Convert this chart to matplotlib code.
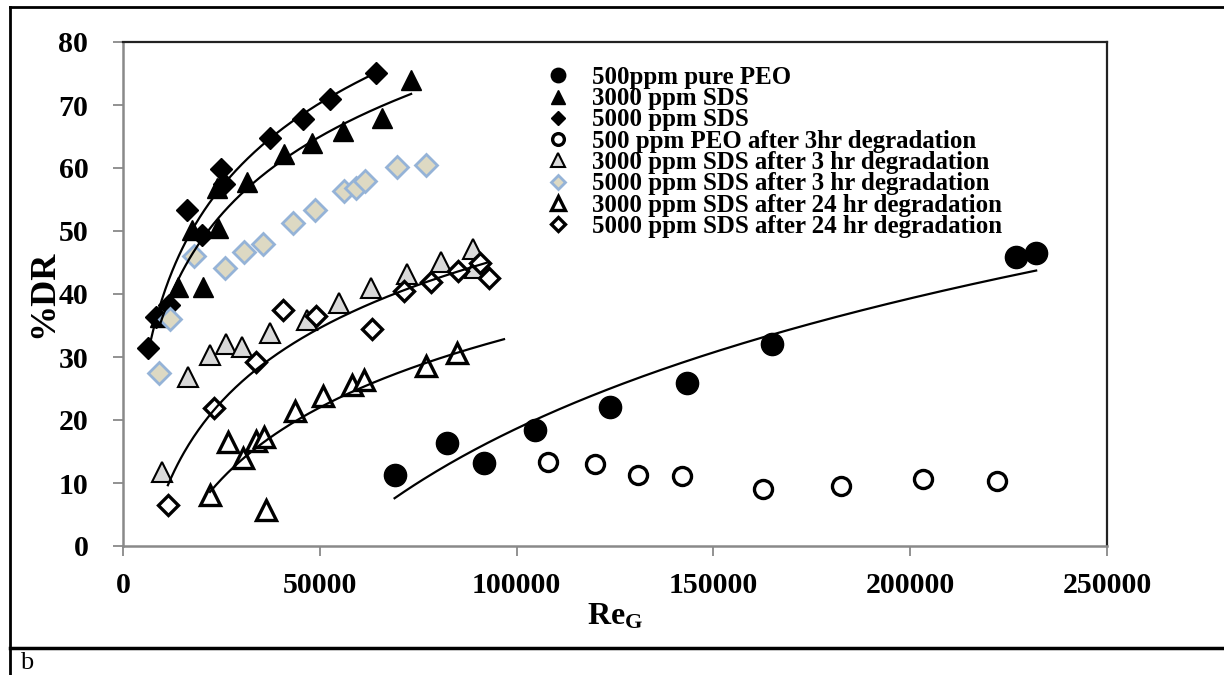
import numpy as np
import matplotlib
matplotlib.use("Agg")
import matplotlib.pyplot as plt
from matplotlib.lines import Line2D

plt.rcParams['font.family'] = ['Liberation Serif', 'DejaVu Serif']
plt.rcParams['font.weight'] = 'bold'
plt.rcParams['mathtext.fontset'] = 'custom'
plt.rcParams['mathtext.rm'] = 'Liberation Serif:bold'
plt.rcParams['mathtext.bf'] = 'Liberation Serif:bold'
plt.rcParams['mathtext.it'] = 'Liberation Serif:bold'

# ---- data: Re_G vs %DR ----
peo_x = [69000, 82300, 91700, 104700, 123700, 143300, 165000, 227000, 232000]
peo_y = [11.3, 16.3, 13.1, 18.4, 22.0, 25.8, 32.0, 45.8, 46.5]

sds3000_x = [9500, 14000, 20300, 17600, 24200, 24000, 31500, 40900, 48000, 55900, 65800, 73200]
sds3000_y = [36.3, 41.1, 41.1, 50.2, 50.4, 56.9, 57.7, 62.3, 63.9, 65.9, 68.0, 73.9]

sds5000_x = [6400, 8400, 11700, 16300, 20100, 25000, 25700, 37300, 45800, 52600, 64300]
sds5000_y = [31.4, 36.3, 38.3, 53.4, 49.3, 59.8, 57.5, 64.8, 67.8, 71.0, 75.1]

peo_3h_x = [108000, 120000, 130800, 142000, 162700, 182400, 203200, 222000]
peo_3h_y = [13.3, 13.0, 11.3, 11.1, 9.1, 9.5, 10.6, 10.3]

sds3000_3h_x = [9800, 16600, 22100, 26100, 30200, 37300, 46700, 54800, 63000, 72100, 80800, 88900, 89400]
sds3000_3h_y = [11.7, 26.8, 30.3, 32.1, 31.6, 33.8, 35.8, 38.6, 40.9, 43.1, 45.0, 47.1, 44.2]

sds5000_3h_x = [9200, 11900, 18000, 25900, 30700, 35600, 43200, 48800, 56200, 59200, 61500, 69700, 76900]
sds5000_3h_y = [27.4, 36.0, 46.0, 44.1, 46.6, 47.9, 51.2, 53.4, 56.4, 56.9, 58.0, 60.1, 60.4]

sds3000_24h_x = [22100, 36300, 26700, 30500, 33800, 35800, 43700, 50800, 58200, 61200, 77000, 84800]
sds3000_24h_y = [8.1, 5.7, 16.5, 14.0, 16.7, 17.3, 21.4, 23.8, 25.5, 26.3, 28.5, 30.6]

sds5000_24h_x = [11400, 23100, 33800, 40700, 49000, 63200, 71400, 78200, 85100, 90700, 93000]
sds5000_24h_y = [6.5, 21.9, 29.2, 37.4, 36.5, 34.4, 40.4, 41.9, 43.6, 44.9, 42.5]

labels = ["500ppm pure PEO",
          "3000 ppm SDS",
          "5000 ppm SDS",
          "500 ppm PEO after 3hr degradation",
          "3000 ppm SDS after 3 hr degradation",
          "5000 ppm SDS after 3 hr degradation",
          "3000 ppm SDS after 24 hr degradation",
          "5000 ppm SDS after 24 hr degradation"]

x_ticks = [0, 50000, 100000, 150000, 200000, 250000]
y_ticks = [0, 10, 20, 30, 40, 50, 60, 70, 80]

# ---- figure ----
W, H = 1224, 675
fig = plt.figure(figsize=(W / 100, H / 100), dpi=100)
ax = fig.add_axes([123 / W, 1 - 546 / H, (1107 - 123) / W, (546 - 42) / H])

series = [
    (peo_x, peo_y, dict(marker='o', ms=16, mfc='black', mec='black', mew=1)),
    (sds3000_x, sds3000_y, dict(marker='^', ms=15, mfc='black', mec='black', mew=1)),
    (sds5000_x, sds5000_y, dict(marker='D', ms=11, mfc='black', mec='black', mew=1)),
    (peo_3h_x, peo_3h_y, dict(marker='o', ms=13, mfc='white', mec='black', mew=2.4)),
    (sds3000_3h_x, sds3000_3h_y, dict(marker='^', ms=15, mfc='#d9d9d9', mec='black', mew=1.5)),
    (sds5000_3h_x, sds5000_3h_y, dict(marker='D', ms=11, mfc='#ddd9c3', mec='#95b3d7', mew=2)),
    (sds3000_24h_x, sds3000_24h_y, dict(marker='^', ms=15, mfc='white', mec='black', mew=2.4)),
    (sds5000_24h_x, sds5000_24h_y, dict(marker='D', ms=10.5, mfc='white', mec='black', mew=2.4)),
]

# logarithmic trendlines (least squares on ln x), with optional forward forecast
trend_series = [(peo_x, peo_y, 0), (sds3000_x, sds3000_y, 0), (sds5000_x, sds5000_y, 0),
                (sds3000_24h_x, sds3000_24h_y, 12000), (sds5000_24h_x, sds5000_24h_y, 0)]

for x, y, st in series:
    ax.plot(x, y, linestyle='none', zorder=3, **st)

for x, y, fwd in trend_series:
    x = np.asarray(x, float)
    y = np.asarray(y, float)
    a, b = np.polyfit(np.log(x), y, 1)
    xs = np.linspace(x.min(), x.max() + fwd, 200)
    ax.plot(xs, a * np.log(xs) + b, color='black', lw=1.6, zorder=4)

ax.set_xlim(0, 250000)
ax.set_ylim(0, 80)
ax.set_xticks(x_ticks)
ax.set_yticks(y_ticks)
ax.set_xticklabels([str(v) for v in x_ticks])
ax.set_yticklabels([str(v) for v in y_ticks])

axis_grey = '#898989'
for side in ('left', 'bottom'):
    ax.spines[side].set_color(axis_grey)
    ax.spines[side].set_linewidth(1.8)
for side in ('top', 'right'):
    ax.spines[side].set_color('#222222')
    ax.spines[side].set_linewidth(1.6)
ax.tick_params(axis='y', which='major', direction='out', length=7, width=1.3,
               color=axis_grey, labelsize=21.5, pad=18)
ax.tick_params(axis='x', which='major', direction='out', length=7, width=1.3,
               color=axis_grey, labelsize=21.5, pad=12)
for lab in ax.get_xticklabels() + ax.get_yticklabels():
    lab.set_fontweight('bold')

ax.set_ylabel('%DR', fontsize=26, fontweight='bold', labelpad=-1)
ax.set_xlabel(r'$\mathbf{Re}_{\mathbf{G}}$', fontsize=23, labelpad=2)

handles = [Line2D([], [], linestyle='none', **st) for _, _, st in series]
ax.legend(handles, labels, loc='upper left', bbox_to_anchor=((537 - 123) / 984, (546 - 56) / 504),
          frameon=False, prop={'size': 17.9, 'weight': 'bold'}, markerscale=0.65,
          handlelength=0.9, handletextpad=0.9, labelspacing=-0.07, borderaxespad=0)

# document table frame around the chart
frame_kw = dict(color='black', lw=2, transform=fig.transFigure, clip_on=False)
fig.add_artist(Line2D([10 / W, 10 / W], [0, 1 - 7 / H], **frame_kw))
fig.add_artist(Line2D([10 / W, 1], [1 - 7 / H, 1 - 7 / H], **frame_kw))
fig.add_artist(Line2D([10 / W, 1], [1 - 648 / H, 1 - 648 / H], lw=2.5, color='black',
                      transform=fig.transFigure))
fig.text(20 / W, 1 - 663 / H, 'b', fontsize=19, fontweight='normal', va='center', ha='left')

fig.savefig('out.png', dpi=100)
